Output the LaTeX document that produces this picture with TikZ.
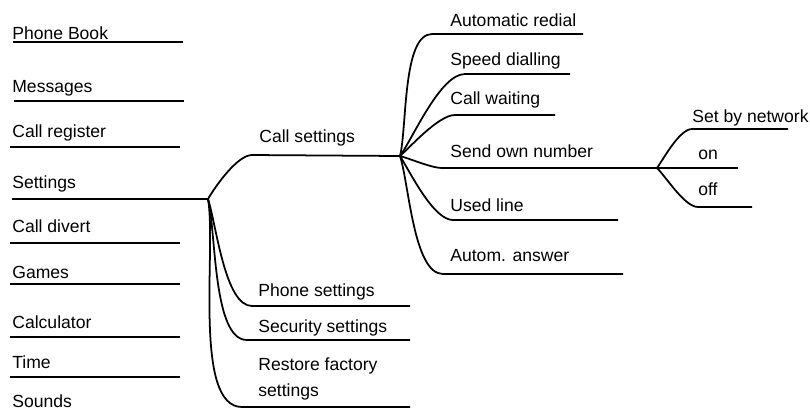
\documentclass[tikz,border=0pt]{standalone}
\usepackage{fontspec}
\setmainfont{Liberation Sans}
\usetikzlibrary{positioning}

\begin{document}
\begin{tikzpicture}[
    x=0.02cm, y=-0.02cm,
    item/.style={anchor=base west, inner sep=0pt, font=\fontsize{10}{12}\selectfont},
    rule/.style={line width=1pt},
    twig/.style={line width=1pt, looseness=0.6},
]
\useasboundingbox (0,0) rectangle (810,414);

% Main menu
\node[item] (phonebook) at (12,39) {Phone Book};
\node[item] (messages) at (12,92) {Messages};
\node[item] (callreg) at (12,137) {Call register};
\node[item] (settings) at (12,188) {Settings};
\node[item] (calldiv) at (12,232) {Call divert};
\node[item] (games) at (12,278) {Games};
\node[item] (calc) at (12,328) {Calculator};
\node[item] (time) at (12,368) {Time};
\node[item] (sounds) at (12,407) {Sounds};

\draw[rule] (13,42) -- (183,42);
\draw[rule] (14,101) -- (184,101);
\draw[rule] (10,147) -- (180,147);
\draw[rule] (10,243) -- (180,243);
\draw[rule] (10,284) -- (180,284);
\draw[rule] (10,337) -- (180,337);
\draw[rule] (10,377) -- (180,377);

% Settings submenu
\coordinate (root) at (208,199);
\draw[rule] (12,199) -- (root);

\node[item] (callset) at (259,142) {Call settings};
\node[item] (phoneset) at (258,296) {Phone settings};
\node[item] (secset) at (258,332) {Security settings};
\node[item, align=left] (restore) at (258,396) {Restore factory\\[2.7pt]settings};

\coordinate (callfork) at (400,156);
\draw[twig] (root) to[out=60, in=180] (252,155) -- (callfork);
\draw[twig] (root) to[out=-72, in=180] (252,306) -- (410,306);
\draw[twig] (root) to[out=-76, in=180] (247,340) -- (410,340);
\draw[twig] (root) to[out=-80, in=180] (242,407) -- (410,407);

% Call settings submenu
\node[item] (redial) at (450,26) {Automatic redial};
\node[item] (speed) at (450,65) {Speed dialling};
\node[item] (waiting) at (450,104) {Call waiting};
\node[item] (ownnum) at (450,157) {Send own number};
\node[item] (usedline) at (450,211) {Used line};
\node[item] (answer) at (450,261) {Autom. answer};

\coordinate (numfork) at (657,168);
\draw[twig] (callfork) to[out=76, in=180] (432,34) -- (583,34);
\draw[twig] (callfork) to[out=55, in=180] (465,74) -- (570,74);
\draw[twig] (callfork) to[out=42, in=180] (455,115) -- (555,115);
\draw[twig] (callfork) to[out=-15, in=180] (442,168) -- (numfork);
\draw[twig] (callfork) to[out=-58, in=180] (453,220) -- (618,220);
\draw[twig] (callfork) to[out=-72, in=180] (443,274) -- (623,274);

% Send own number options
\node[item] (network) at (692,122) {Set by network};
\node[item] (on) at (698,159) {on};
\node[item] (off) at (698,195) {off};

\draw[twig] (numfork) to[out=55, in=180] (692,129) -- (788,129);
\draw[rule] (numfork) -- (738,168);
\draw[twig] (numfork) to[out=-45, in=180] (698,207) -- (752,207);

\end{tikzpicture}
\end{document}
